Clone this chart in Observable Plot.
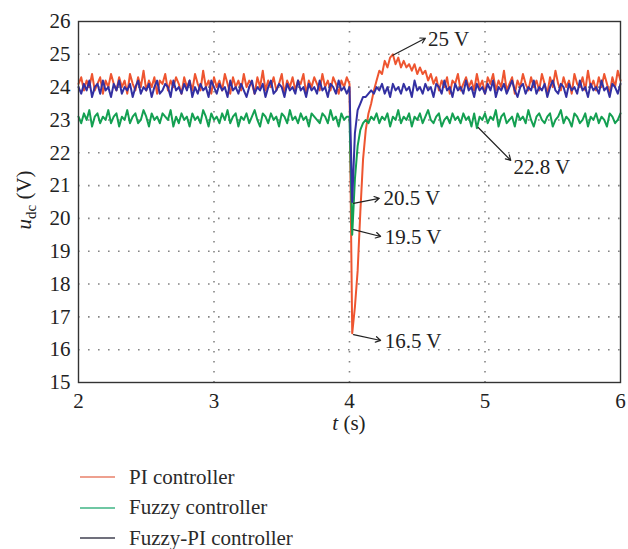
<!DOCTYPE html>
<html>
<head>
<meta charset="utf-8">
<script src="https://cdn.jsdelivr.net/npm/d3@7"></script>
<script src="https://cdn.jsdelivr.net/npm/@observablehq/plot@0.6"></script>
<style>
  body { margin: 0; background: white; width: 628px; height: 549px; overflow: hidden; font-family: "Liberation Serif", serif; }
  #chart { position: relative; }
  .legend { position: absolute; left: 0; top: 462px; }
  .row { position: absolute; left: 80px; height: 30px; display: flex; align-items: center; font-size: 21px; color: #2a2a2a; white-space: nowrap; font-family: "Liberation Serif", serif; }
  .row svg { margin-right: 14px; }
</style>
</head>
<body>
<div id="chart"></div>
<script>
// Sampling instants (s), step 0.02 s from 2 to 6
const time = d3.range(201).map(i => +(2 + i * 0.02).toFixed(2));

const seriesNames = ["PI controller", "Fuzzy controller", "Fuzzy-PI controller"];
const seriesColors = ["#ee5530", "#14a052", "#3330a2"];
const legendColors = ["#e8806a", "#3fb585", "#404050"];

// PI controller u_dc (V)
const piValues = [
24.1,24.3,23.9,24.2,24.0,24.4,23.9,24.1,24.3,23.8,
24.2,24.0,24.4,24.1,23.9,24.3,24.0,24.2,23.8,24.4,
24.1,23.9,24.3,24.0,24.5,23.9,24.2,24.0,24.3,23.8,
24.2,24.1,24.4,23.9,24.2,24.0,24.3,24.1,23.8,24.3,
24.0,24.2,23.9,24.4,24.1,23.9,24.5,24.0,24.2,23.8,
24.3,24.0,24.2,23.9,24.4,24.1,23.8,24.3,24.0,24.2,
23.9,24.4,24.0,24.2,24.1,23.8,24.3,24.0,24.5,23.9,
24.2,24.0,24.3,23.9,24.1,24.4,23.8,24.2,24.0,24.3,
23.9,24.2,24.1,24.4,23.8,24.2,24.0,24.3,24.1,23.9,
24.4,24.0,24.2,23.9,24.3,24.1,23.8,24.2,24.0,24.3,
24.1,
16.5,17.3,18.4,20.2,21.8,22.7,23.2,23.5,23.9,24.2,
24.5,24.4,24.8,24.6,24.9,25.0,24.7,24.9,24.6,24.8,
24.6,24.7,24.5,24.7,24.4,24.6,24.4,24.5,24.2,24.4,
24.1,24.3,23.9,24.2,24.0,24.3,23.8,24.2,24.1,24.4,
23.9,24.1,24.3,24.0,24.2,23.9,24.4,24.0,24.2,23.8,
24.3,24.1,24.4,23.9,24.2,24.0,24.5,23.9,24.1,24.3,
23.8,24.2,24.0,24.4,24.1,23.9,24.3,24.0,24.2,23.9,
24.4,24.1,23.8,24.3,24.0,24.5,24.1,23.9,24.3,24.0,
24.2,23.8,24.4,24.1,24.0,24.3,23.9,24.5,24.0,24.2,
23.9,24.3,24.0,24.4,24.1,23.8,24.3,24.0,24.5,24.2
];

// Fuzzy controller u_dc (V)
const fuzzyValues = [
23.1,22.9,23.2,23.0,23.3,22.8,23.1,23.2,22.9,23.1,
23.0,23.3,22.9,23.1,23.2,22.8,23.1,23.0,23.3,22.9,
23.1,23.2,22.9,23.0,23.3,23.1,22.8,23.2,23.0,23.1,
22.9,23.2,23.1,23.0,23.3,22.8,23.1,22.9,23.2,23.0,
23.1,22.8,23.2,23.0,23.1,22.9,23.3,23.1,22.8,23.2,
23.0,23.1,22.9,23.2,23.0,23.3,22.9,23.1,23.2,22.8,
23.1,23.0,23.2,22.9,23.1,23.3,23.0,22.8,23.2,23.1,
22.9,23.2,23.0,23.1,22.8,23.2,23.1,22.9,23.3,23.0,
23.1,22.9,23.2,23.0,23.1,22.8,23.2,23.1,23.0,22.9,
23.2,23.1,22.9,23.3,23.0,23.1,22.8,23.2,23.0,23.1,
23.1,
19.5,21.2,22.2,22.7,22.9,23.0,22.9,23.1,23.0,23.2,
22.9,23.1,23.0,23.2,22.8,23.1,23.0,23.3,22.9,23.1,
23.0,23.2,22.8,23.1,23.0,23.2,22.9,23.1,23.3,23.0,
22.9,23.1,23.2,22.8,23.0,23.1,22.9,23.2,23.0,23.1,
22.9,23.2,23.0,23.1,22.8,23.2,22.75,23.1,23.0,23.2,
22.9,23.1,23.0,23.3,22.8,23.1,23.2,22.9,23.0,23.1,
22.8,23.2,23.0,23.1,22.9,23.3,23.0,22.8,23.1,23.2,
23.0,22.9,23.1,23.2,22.8,23.0,23.1,23.3,22.9,23.1,
23.0,22.8,23.2,23.1,22.9,23.0,23.2,22.8,23.1,23.0,
23.2,22.9,23.1,23.0,22.8,23.2,23.1,22.9,23.0,23.2
];

// Fuzzy-PI controller u_dc (V)
const fuzzyPiValues = [
24.0,23.8,24.1,23.9,24.2,23.7,24.0,24.1,23.8,24.2,
23.9,24.0,23.7,24.1,23.9,24.2,23.8,24.0,23.9,24.1,
23.7,24.0,24.2,23.8,24.0,23.9,24.1,23.7,24.0,24.2,
23.8,23.9,24.1,24.0,23.7,24.2,23.9,24.0,23.8,24.1,
23.9,24.2,23.7,24.0,23.8,24.1,23.9,24.0,23.7,24.2,
24.0,23.8,24.1,23.9,24.0,23.7,24.2,23.9,24.0,23.8,
24.1,23.9,23.7,24.0,24.2,23.8,24.0,23.9,24.1,23.7,
24.0,24.2,23.8,23.9,24.1,24.0,23.7,24.1,23.9,24.0,
23.8,24.2,23.9,24.0,23.7,24.1,23.9,24.0,23.8,24.2,
23.9,24.0,23.7,24.1,24.0,23.8,24.2,23.9,24.0,23.8,
24.0,
20.5,22.6,23.3,23.5,23.7,23.7,23.8,23.9,23.8,24.0,
23.9,24.1,23.8,24.0,23.7,24.1,23.9,24.0,23.8,24.1,
23.9,24.0,23.7,24.2,23.9,24.0,23.8,24.1,23.9,24.0,
23.7,24.1,24.0,23.8,24.2,23.9,24.0,23.7,24.1,23.9,
24.0,23.8,24.2,23.9,24.0,23.7,24.1,23.9,24.0,23.8,
24.1,23.9,24.2,23.7,24.0,23.9,24.1,23.8,24.0,24.2,
23.9,23.7,24.0,24.1,23.8,24.0,23.9,24.2,23.8,24.0,
23.9,24.1,23.7,24.0,24.2,23.9,23.8,24.1,24.0,23.7,
24.1,23.9,24.0,23.8,24.2,23.9,24.0,23.7,24.1,23.9,
24.0,23.8,24.2,23.9,24.0,23.7,24.1,24.0,23.8,24.1
];

const xTicks = [2, 3, 4, 5, 6];
const yTicks = [15, 16, 17, 18, 19, 20, 21, 22, 23, 24, 25, 26];

// Annotations: arrow tail at the curve point, head near the label
const annLabels = ["25 V", "22.8 V", "20.5 V", "19.5 V", "16.5 V"];
const annFromT = [4.32, 4.95, 4.03, 4.03, 4.03];
const annFromV = [24.97, 22.77, 20.46, 19.66, 16.46];
const annToT   = [4.56, 5.19, 4.22, 4.23, 4.23];
const annToV   = [25.49, 21.77, 20.61, 19.45, 16.28];
const annTextT = [4.58, 5.21, 4.25, 4.26, 4.26];
const annTextV = [25.47, 21.55, 20.6, 19.42, 16.25];

const rows = [];
[piValues, fuzzyValues, fuzzyPiValues].forEach((vals, s) => {
  vals.forEach((v, i) => rows.push({t: time[i], v, series: seriesNames[s]}));
});
const ann = annLabels.map((label, i) => ({
  label, x1: annFromT[i], y1: annFromV[i], x2: annToT[i], y2: annToV[i], tx: annTextT[i], ty: annTextV[i]
}));

const W = 628, H = 452;
const chart = Plot.plot({
  width: W, height: H,
  marginLeft: 78, marginRight: 8, marginTop: 21, marginBottom: 70,
  style: {fontFamily: "'Liberation Serif', serif", fontSize: "21px", background: "white", color: "#222"},
  x: {domain: [2, 6], label: null},
  y: {domain: [15, 26], label: null},
  color: {domain: seriesNames, range: seriesColors},
  marks: [
    Plot.ruleY(yTicks.filter(d => d > 15 && d < 26), {stroke: "#777", strokeWidth: 1.6, strokeDasharray: "1.6,8.4", strokeOpacity: 0.9}),
    Plot.ruleX(xTicks.filter(d => d > 2 && d < 6), {stroke: "#777", strokeWidth: 1.6, strokeDasharray: "1.6,8.4", strokeOpacity: 0.9}),
    Plot.line(rows, {x: "t", y: "v", z: "series", stroke: "series", strokeWidth: 2, curve: "linear"}),
    Plot.arrow(ann, {x1: "x1", y1: "y1", x2: "x2", y2: "y2", stroke: "#222", strokeWidth: 1.2, headLength: 7}),
    Plot.text(ann, {x: "tx", y: "ty", text: "label", textAnchor: "start", lineAnchor: "middle", fontSize: 21, fill: "#222"}),
    Plot.frame({stroke: "#333", strokeWidth: 1.4}),
    Plot.axisX({ticks: xTicks, tickSize: 0, tickPadding: 11, tickFormat: d => String(d), fontSize: 21}),
    Plot.axisY({ticks: yTicks, tickSize: 0, tickPadding: 8, tickFormat: d => String(d), fontSize: 21})
  ]
});
document.getElementById("chart").appendChild(chart);

// Axis titles with italic symbols and subscript
const svg = d3.select(chart);
const yl = svg.append("text")
  .attr("transform", "translate(31,200) rotate(-90)")
  .attr("text-anchor", "middle")
  .attr("font-family", "'Liberation Serif', serif")
  .attr("font-size", 21).attr("fill", "#222");
yl.append("tspan").attr("font-style", "italic").text("u");
yl.append("tspan").attr("font-size", 15).attr("dy", 5).text("dc");
yl.append("tspan").attr("dy", -5).text(" (V)");

const xl = svg.append("text")
  .attr("x", 349).attr("y", 430)
  .attr("text-anchor", "middle")
  .attr("font-family", "'Liberation Serif', serif")
  .attr("font-size", 21).attr("fill", "#222");
xl.append("tspan").attr("font-style", "italic").text("t");
xl.append("tspan").text(" (s)");

// Legend (HTML, below the SVG)
const leg = d3.select("#chart").append("div").attr("class", "legend");
seriesNames.forEach((name, i) => {
  const r = leg.append("div").attr("class", "row").style("top", (i * 30.5) + "px");
  const sw = r.append("svg").attr("width", 35).attr("height", 4);
  sw.append("line").attr("x1", 0).attr("x2", 35).attr("y1", 2).attr("y2", 2)
    .attr("stroke", legendColors[i]).attr("stroke-width", 1.5);
  r.append("span").text(name);
});
</script>
</body>
</html>
